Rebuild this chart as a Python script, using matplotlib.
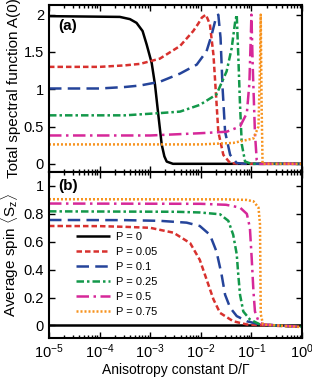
import numpy as np
import matplotlib
matplotlib.use('Agg')
import matplotlib.pyplot as plt
from matplotlib.ticker import LogLocator, NullFormatter

plt.rcParams['font.family'] = ['Liberation Sans', 'DejaVu Sans']
plt.rcParams['mathtext.fontset'] = 'custom'
plt.rcParams['mathtext.rm'] = 'Liberation Sans'

# values, x given as log10(D/Gamma)
labels = ['P = 0', 'P = 0.05', 'P = 0.1', 'P = 0.25', 'P = 0.5', 'P = 0.75']
colors = ['black', '#d8312e', '#25449a', '#13984a', '#d62899', '#f7931e']

# (a) total spectral function A(0)
a0_x = [-5, -3.6, -3.4, -3.27, -3.15, -3.07, -2.97, -2.905, -2.84, -2.773, -2.72, -2.674, -2.55, 0]
a0_y = [1.98, 1.97, 1.94, 1.89, 1.78, 1.6, 1.35, 1.06, 0.66, 0.26, 0.1, 0.03, 0.0, 0.0]
a05_x = [-5, -4, -3.5, -3.2, -2.81, -2.41, -2.15, -2.05, -1.98, -1.9, -1.82, -1.75, -1.7, -1.654, -1.555, -1.42, -1.2, 0]
a05_y = [1.30, 1.30, 1.32, 1.34, 1.41, 1.58, 1.78, 1.88, 1.96, 2.0, 1.87, 1.46, 0.93, 0.43, 0.12, 0.01, 0.0, 0.0]
a1_x = [-5, -4, -3.5, -3.2, -2.81, -2.41, -2.08, -1.886, -1.785, -1.7, -1.654, -1.61, -1.57, -1.52, -1.42, -1.29, -1.1, 0]
a1_y = [1.01, 1.01, 1.03, 1.05, 1.10, 1.21, 1.33, 1.51, 1.73, 1.96, 2.0, 1.69, 1.02, 0.43, 0.12, 0.01, 0.0, 0.0]
a25_x = [-5, -3.5, -2.81, -2.41, -2.02, -1.69, -1.49, -1.39, -1.32, -1.29, -1.26, -1.225, -1.19, -1.125, -1.0, 0]
a25_y = [0.65, 0.65, 0.68, 0.70, 0.79, 0.93, 1.24, 1.55, 1.91, 2.0, 1.46, 0.79, 0.26, 0.03, 0.0, 0.0]
a5_x = [-5, -3, -2.02, -1.49, -1.225, -1.09, -1.04, -1.01, -1.0, -0.974, -0.93, -0.895, -0.85, 0]
a5_y = [0.38, 0.38, 0.41, 0.43, 0.50, 0.68, 1.08, 1.75, 2.0, 1.31, 0.41, 0.05, 0.0, 0.0]
a75_x = [-5, -2, -1.36, -0.96, -0.86, -0.83, -0.816, -0.8, -0.78, 0]
a75_y = [0.26, 0.26, 0.28, 0.34, 0.5, 1.31, 2.0, 0.86, 0.0, 0.0]

# (b) average spin <Sz>
s0_x = [-5, 0]
s0_y = [0.0, 0.0]
s05_x = [-5, -4, -3.5, -3, -2.54, -2.21, -2.02, -1.886, -1.75, -1.62, -1.36, -1.09, -0.7, 0]
s05_y = [0.713, 0.712, 0.707, 0.70, 0.665, 0.59, 0.47, 0.33, 0.187, 0.09, 0.03, 0.007, 0.0, -0.01]
s1_x = [-5, -3.5, -2.81, -2.28, -2.02, -1.82, -1.69, -1.59, -1.52, -1.42, -1.29, -1.09, -0.83, 0]
s1_y = [0.756, 0.755, 0.75, 0.737, 0.713, 0.65, 0.53, 0.366, 0.22, 0.127, 0.067, 0.03, 0.007, -0.01]
s25_x = [-5, -2.5, -2.02, -1.62, -1.456, -1.36, -1.29, -1.26, -1.225, -1.16, -1.03, -0.83, 0]
s25_y = [0.818, 0.815, 0.81, 0.797, 0.75, 0.65, 0.51, 0.366, 0.22, 0.10, 0.043, 0.007, -0.01]
s5_x = [-5, -2, -1.5, -1.225, -1.09, -1.03, -0.995, -0.96, -0.93, -0.86, -0.77, 0]
s5_y = [0.874, 0.872, 0.865, 0.845, 0.80, 0.70, 0.486, 0.246, 0.10, 0.03, 0.007, -0.01]
s75_x = [-5, -1.5, -1.1, -0.96, -0.86, -0.83, -0.822, -0.815, -0.77, 0]
s75_y = [0.905, 0.904, 0.90, 0.89, 0.845, 0.725, 0.366, 0.08, 0.007, -0.012]

topX = [a0_x, a05_x, a1_x, a25_x, a5_x, a75_x]
topY = [a0_y, a05_y, a1_y, a25_y, a5_y, a75_y]
botX = [s0_x, s05_x, s1_x, s25_x, s5_x, s75_x]
botY = [s0_y, s05_y, s1_y, s25_y, s5_y, s75_y]

styles = [(0, ()), (0, (2.2, 1.2)), (0, (5, 2.5)), (0, (3, 1.2, 1, 1.2)), (0, (5, 1.8, 1, 1.8)), (0, (0.8, 0.8))]
lw = 1.8

fig = plt.figure(figsize=(3.12, 3.82), dpi=100)
axA = fig.add_axes([0.157, 0.5497, 0.811, 0.4373])
axB = fig.add_axes([0.157, 0.1152, 0.811, 0.4345], sharex=axA)

for i in range(6):
    axA.plot(10.0 ** np.array(topX[i], dtype=float), topY[i], color=colors[i], linestyle=styles[i], lw=lw)
    axB.plot(10.0 ** np.array(botX[i], dtype=float), botY[i], color=colors[i], linestyle=styles[i], lw=lw, label=labels[i])

for ax in (axA, axB):
    ax.set_xscale('log')
    ax.set_xlim(1e-5, 1)
    ax.tick_params(which='both', direction='in', top=True, right=True, labelsize=10.5, width=1)
    ax.tick_params(which='major', length=4.5)
    ax.tick_params(which='minor', length=2.5)
    ax.xaxis.set_major_locator(LogLocator(base=10, numticks=10))
    ax.xaxis.set_minor_locator(LogLocator(base=10, subs=np.arange(2, 10), numticks=20))
    ax.xaxis.set_minor_formatter(NullFormatter())
    for s in ax.spines.values():
        s.set_linewidth(1.5)

axA.set_ylim(-0.11, 2.13)
axA.set_yticks([0, 0.5, 1, 1.5, 2])
axA.set_yticklabels(['0', '0.5', '1', '1.5', '2'])
axA.tick_params(labelbottom=False)
axA.set_ylabel('Total spectral function A(0)', fontsize=11, labelpad=2)
axA.text(0.035, 0.85, '(a)', transform=axA.transAxes, fontsize=11, fontweight='bold')

axB.set_ylim(-0.09, 1.1)
axB.set_yticks([0, 0.2, 0.4, 0.6, 0.8, 1])
axB.set_yticklabels(['0', '0.2', '0.4', '0.6', '0.8', '1'])
axB.set_ylabel(r'Average spin $\langle\mathregular{S_z}\rangle$', fontsize=11, labelpad=2)
axB.set_xlabel('Anisotropy constant D/\u0393', fontsize=10, labelpad=1)
axB.text(0.035, 0.89, '(b)', transform=axB.transAxes, fontsize=11, fontweight='bold')

axB.legend(loc='upper left', bbox_to_anchor=(0.09, 0.665), frameon=False, fontsize=8,
           handlelength=3.0, handletextpad=0.6, labelspacing=0.45, borderaxespad=0)

plt.savefig('out.png', dpi=100)
